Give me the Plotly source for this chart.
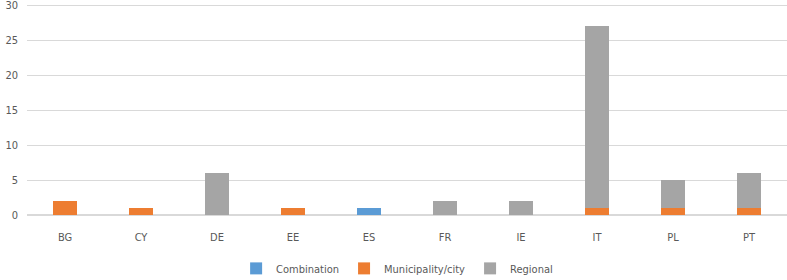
import plotly.graph_objects as go

categories = ["BG", "CY", "DE", "EE", "ES", "FR", "IE", "IT", "PL", "PT"]
combination = [0, 0, 0, 0, 1, 0, 0, 0, 0, 0]
municipality = [2, 1, 0, 1, 0, 0, 0, 1, 1, 1]
regional = [0, 0, 6, 0, 0, 2, 2, 26, 4, 5]
y_ticks = [0, 5, 10, 15, 20, 25, 30]

font = dict(family="DejaVu Sans Condensed, Liberation Sans Narrow, sans-serif", size=11, color="#595959")

fig = go.Figure()
fig.add_trace(go.Bar(name="Combination", x=categories, y=combination, marker_color="#5B9BD5"))
fig.add_trace(go.Bar(name="Municipality/city", x=categories, y=municipality, marker_color="#ED7D31"))
fig.add_trace(go.Bar(name="Regional", x=categories, y=regional, marker_color="#A5A5A5"))
fig.update_traces(marker_line_width=0)

fig.update_layout(
    barmode="stack",
    bargap=0.69,
    width=787, height=280,
    margin=dict(l=27, r=0, t=4, b=65, autoexpand=False),
    paper_bgcolor="white", plot_bgcolor="white",
    font=font,
    showlegend=True,
    legend=dict(orientation="h", x=0.487, xanchor="center", y=-0.253, yanchor="middle",
                font=font, itemwidth=30, traceorder="normal"),
    xaxis=dict(showgrid=False, showline=False, ticks="", tickfont=font, automargin=False,
               ticklabelstandoff=14),
    yaxis=dict(range=[0, 30.15], tickvals=y_ticks, showgrid=True, gridcolor="#D9D9D9",
               gridwidth=1, zeroline=True, zerolinecolor="#D9D9D9", showline=False,
               ticks="", tickfont=font, automargin=False, ticklabelstandoff=8,
               ticklabeloverflow="allow"),
)
fig.write_html("out.html", post_script="document.body.style.margin='0';",
               config={"displayModeBar": False})
